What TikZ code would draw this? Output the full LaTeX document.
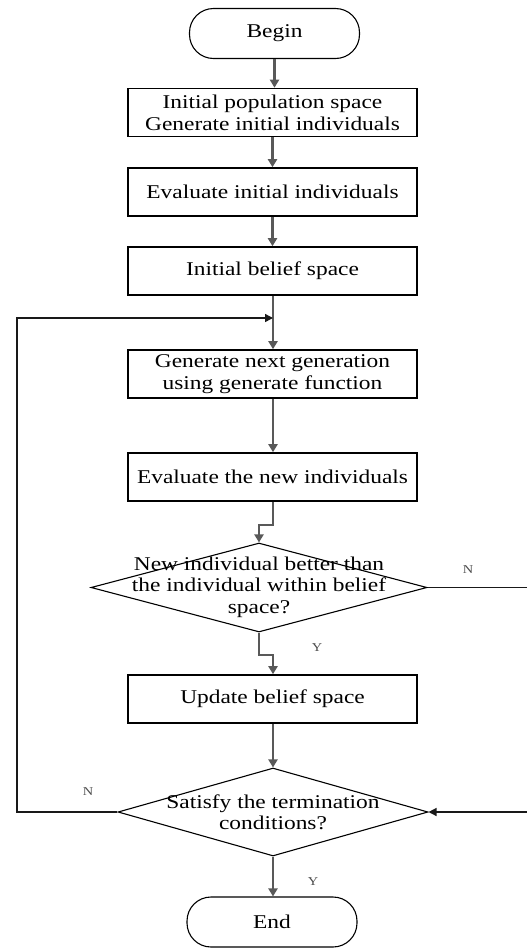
\documentclass[tikz,border=0pt]{standalone}
\usepackage{fontspec}
\setmainfont{Liberation Serif}[FakeStretch=1.2]
\usetikzlibrary{arrows.meta,shapes.geometric}

\begin{document}
\begin{tikzpicture}[x=1pt, y=-1pt,
	stepbox/.style={draw, line width=1.6pt, minimum width=289pt, minimum height=48pt, align=center, inner sep=0pt, font=\fontsize{19.5}{22}\selectfont},
	term/.style={draw, line width=1.1pt, rounded corners=24pt, minimum width=170pt, minimum height=50pt, font=\fontsize{19.5}{22}\selectfont},
	decide/.style={draw, line width=1.1pt, diamond, inner sep=0pt},
	dtext/.style={align=center, inner sep=0pt, font=\fontsize{19.5}{21.5}\selectfont},
	flow/.style={draw=black!65, line width=2.6pt, -{Triangle[length=8pt,width=9pt]}},
	back/.style={draw=black!90, line width=1.4pt},
	yn/.style={font=\fontsize{12}{12}\selectfont, text=black!70}]
	\useasboundingbox (0,0) rectangle (527,948);
	\node[term] (begin) at (274.5,33.5) {Begin};
	\node[stepbox] (init) at (272.5,112.5) {Initial population space\\Generate initial individuals};
	\node[stepbox] (evalinit) at (272.5,192) {Evaluate initial individuals};
	\node[stepbox] (belief) at (272.5,271) {Initial belief space};
	\node[stepbox] (gen) at (272.5,374) {Generate next generation\\using generate function};
	\node[stepbox] (evalnew) at (272.5,477) {Evaluate the new individuals};
	\node[decide, minimum width=336pt, minimum height=89pt] (better) at (259,587.5) {};
	\node[dtext] (bettertext) at (259,587) {New individual better than\\the individual within belief\\space?};
	\node[stepbox] (update) at (272.5,699) {Update belief space};
	\node[decide, minimum width=310pt, minimum height=88pt] (stop) at (273,812) {};
	\node[dtext] (stoptext) at (273,812.5) {Satisfy the termination\\conditions?};
	\node[term] (end) at (272,922) {End};
	\coordinate (loop) at (273,318);
	\coordinate (farleft) at (17,318);
	\coordinate (farright) at (535,587.5);
	\draw[flow] (begin) -- (begin |- init.north);
	\draw[flow] (init) -- (evalinit);
	\draw[flow] (evalinit) -- (belief);
	\draw[flow] (belief.south -| loop) -- (gen.north -| loop);
	\draw[flow] (gen.south -| loop) -- (evalnew.north -| loop);
	\draw[flow] (evalnew.south -| loop) -- (273,525) -- (259,525) -- (better.north);
	\draw[flow] (better.south) -- (259,655) -- (273,655) -- (update.north -| loop);
	\draw[flow] (update.south -| stop) -- (stop.north);
	\draw[flow] (stop.south) -- (stop.south |- end.north);
	\draw[back, -{Triangle[length=8pt,width=8pt]}] (stop.west) -- (stop.west -| farleft) -- (farleft) -- (loop);
	\draw[back, -{Triangle[length=8pt,width=8pt]}] (better.east) -- (farright) -- (farright |- stop.east) -- (stop.east);
	\node[yn] (nbetter) at (468,570) {N};
	\node[yn] (ybetter) at (317,648) {Y};
	\node[yn] (nstop) at (88,792) {N};
	\node[yn] (ystop) at (313,882) {Y};
\end{tikzpicture}
\end{document}
